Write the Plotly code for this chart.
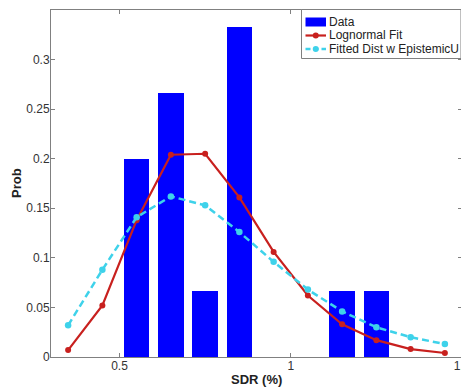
import plotly.graph_objects as go

# Data
bin_centers = [0.35, 0.45, 0.55, 0.65, 0.75, 0.85, 0.95, 1.05, 1.15, 1.25, 1.35, 1.45]
data_prob = [0, 0, 0.2, 0.2667, 0.0667, 0.3333, 0, 0, 0.0667, 0.0667, 0, 0]
lognormal_fit = [0.007, 0.052, 0.138, 0.204, 0.205, 0.161, 0.106, 0.062, 0.033, 0.017, 0.008, 0.004]
fitted_epistemic = [0.032, 0.088, 0.141, 0.162, 0.153, 0.126, 0.096, 0.068, 0.046, 0.030, 0.020, 0.013]

series_names = ["Data", "Lognormal Fit", "Fitted Dist w EpistemicU"]
x_tickvals = [0.5, 1, 1.5]
x_ticktext = ["0.5", "1", "1.5"]
y_tickvals = [0, 0.05, 0.1, 0.15, 0.2, 0.25, 0.3]
y_ticktext = ["0", "0.05", "0.1", "0.15", "0.2", "0.25", "0.3"]

BLUE = "#0000FF"
RED = "#C8201E"
CYAN = "#3ED2EA"
FONT = "Liberation Sans, Arial, sans-serif"

# The page body adds an 8px offset, so the figure is sized/marginned to compensate.
OFF = 8
W, H = 469 - OFF, 390 - OFF
L, R, T, B = 51 - OFF, 7, 10 - OFF, 33
PW, PH = W - L - R, H - T - B


def px(x):  # screen pixel x -> paper
    return (x - OFF - L) / PW


def py(y):  # screen pixel y -> paper
    return (H - B - (y - OFF)) / PH


fig = go.Figure()
fig.add_trace(go.Bar(
    x=bin_centers, y=data_prob, width=0.075, name=series_names[0],
    marker=dict(color=BLUE, line=dict(width=0)), showlegend=False,
))
fig.add_trace(go.Scatter(
    x=bin_centers, y=lognormal_fit, mode="lines+markers", name=series_names[1],
    line=dict(color=RED, width=2.2),
    marker=dict(color=RED, size=6), showlegend=False,
))
fig.add_trace(go.Scatter(
    x=bin_centers, y=fitted_epistemic, mode="lines+markers", name=series_names[2],
    line=dict(color=CYAN, width=2.5, dash="7px,4px"),
    marker=dict(color=CYAN, size=6.5), showlegend=False,
))

axis_common = dict(
    showline=True, linecolor="#808080", linewidth=1, mirror="ticks",
    ticks="inside", ticklen=4, tickcolor="#808080",
    showgrid=False, zeroline=False, automargin=False,
    tickfont=dict(family=FONT, size=12, color="#333333"),
)

# Manual legend (box + symbols + labels)
shapes = []
annotations = []
shapes.append(dict(type="rect", xref="paper", yref="paper",
                   x0=px(301.5), x1=px(461), y0=py(58.5), y1=py(9.5),
                   line=dict(color="#808080", width=1), fillcolor="white", layer="above"))
rows_y = [22, 35.5, 49]
sx0, sx1 = 305.5, 326
shapes.append(dict(type="rect", xref="paper", yref="paper",
                   x0=px(sx0), x1=px(sx1), y0=py(rows_y[0] + 4.5), y1=py(rows_y[0] - 4.5),
                   line=dict(width=0), fillcolor=BLUE, layer="above"))
shapes.append(dict(type="line", xref="paper", yref="paper",
                   x0=px(sx0), x1=px(sx1), y0=py(rows_y[1]), y1=py(rows_y[1]),
                   line=dict(color=RED, width=2.2), layer="above"))
shapes.append(dict(type="line", xref="paper", yref="paper",
                   x0=px(sx0), x1=px(sx1), y0=py(rows_y[2]), y1=py(rows_y[2]),
                   line=dict(color=CYAN, width=2.5, dash="5px,3px"), layer="above"))
for yy, col in [(rows_y[1], RED), (rows_y[2], CYAN)]:
    cx = (sx0 + sx1) / 2
    shapes.append(dict(type="circle", xref="paper", yref="paper",
                       x0=px(cx - 3), x1=px(cx + 3), y0=py(yy + 3), y1=py(yy - 3),
                       line=dict(width=0), fillcolor=col, layer="above"))
for name, yy in zip(series_names, rows_y):
    annotations.append(dict(text=name, xref="paper", yref="paper",
                            x=px(327), y=py(yy), xanchor="left", yanchor="middle",
                            showarrow=False, font=dict(family=FONT, size=12, color="#222222")))

# Axis titles
annotations.append(dict(text="<b>SDR (%)</b>", xref="paper", yref="paper",
                        x=px(256), y=py(379), xanchor="center", yanchor="middle",
                        showarrow=False, font=dict(family=FONT, size=13, color="#222222")))
annotations.append(dict(text="<b>Prob</b>", xref="paper", yref="paper", textangle=-90,
                        x=px(16), y=py(183), xanchor="center", yanchor="middle",
                        showarrow=False, font=dict(family=FONT, size=13, color="#222222")))

fig.update_layout(
    width=W, height=H,
    margin=dict(l=L, r=R, t=T, b=B),
    paper_bgcolor="white", plot_bgcolor="white",
    font=dict(family=FONT, size=12, color="#222222"),
    showlegend=False,
    bargap=0,
    shapes=shapes,
    annotations=annotations,
)
fig.update_xaxes(range=[0.3, 1.5], tickvals=x_tickvals, ticktext=x_ticktext,
                 ticklabeloverflow="allow", ticklabelstandoff=-2, **axis_common)
fig.update_yaxes(range=[0, 0.35], tickvals=y_tickvals, ticktext=y_ticktext,
                 ticklabelstandoff=-2, **axis_common)

fig.write_html("out.html")
